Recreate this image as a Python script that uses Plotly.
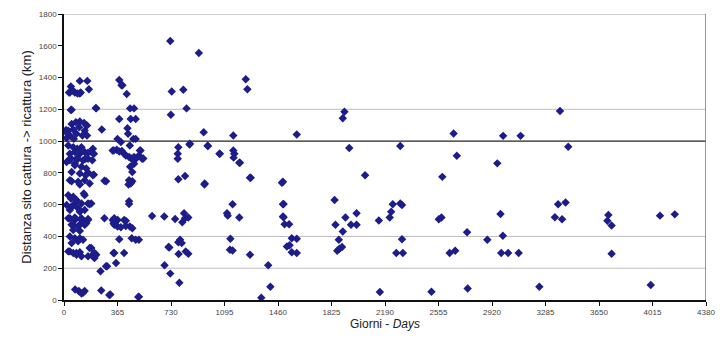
import plotly.graph_objects as go

# Recapture records: days between capture and recapture, distance in km
days = [
    725, 920, 47, 40, 74, 108, 108, 159, 170, 47, 217, 258,
    377, 392, 428, 451, 478, 377, 455, 489, 433, 437, 489, 388, 449, 340, 360, 395,
    518, 422, 459, 492, 541,
    735, 814, 729, 836, 780, 776, 776, 856, 953, 980, 1063, 1155, 1155, 1162, 1200,
    1240, 1251, 1588, 1913, 1902, 1946, 2294, 2658, 2680,
    2996, 3115, 2956, 3384, 3440,
    148, 52, 108, 204, 287, 440, 466, 135, 175, 18, 444, 444,
    276, 332, 366, 338, 365, 388, 422, 449, 466, 601, 684, 758, 819, 826, 848, 807,
    377, 462, 489, 511, 186, 220, 338, 410, 355, 287, 249,
    718, 780, 792, 803, 782, 830, 848, 686, 725, 787,
    76, 101, 119, 141, 254, 309, 507,
    958, 1112, 1117, 1150, 1196, 1135, 1132, 1150, 780, 826,
    1269, 1269, 1393, 1408, 1346, 1487, 1498, 1498, 1505, 1536, 1554, 1588, 1521, 1539,
    1554, 1588, 2054, 1846, 1852, 1920, 1996, 1958, 1996, 1902, 1875, 1864, 1879, 1897,
    2148, 2155, 2222, 2232, 2243, 2294, 2306, 2306, 2267, 2312, 2507, 2557, 2575, 2581,
    2631, 2669, 2750, 2754,
    2978, 2888, 2994, 2983, 3030, 3102, 3243, 3349, 3371, 3422, 3398,
    3714, 3707, 3736, 3736, 4003, 4066, 4167,
    859, 982, 1061, 1157, 1196, 1274, 960, 1494, 1494, 1494,
    34, 63, 92, 114, 52, 220, 399, 365, 473,
    29, 52, 81, 108, 137, 157, 63, 103, 141, 40, 85, 126, 157, 18, 67,
    29, 63, 90, 119, 40, 74, 108, 141, 164, 197, 204, 45, 96, 148, 193, 18, 74,
    96, 186, 40, 85, 130, 164, 74, 119, 152, 52, 108, 164, 197, 40, 96, 141, 175,
    276, 444, 455, 466, 451, 478, 332, 377, 410, 444, 478, 511, 533, 522,
    29, 63, 85, 119, 164, 52, 96, 141, 141, 186,
    40, 74, 119, 164, 63, 108, 152, 343, 410,
    343, 422, 40, 74, 108, 52, 96, 130,
    29, 63, 85, 108, 119, 175, 197, 208, 343, 294, 713,
    130, 316, 511,
    29, 74, 119, 164, 52, 96, 141, 63, 108, 47, 85, 63, 40, 108,
    40, 85, 164, 197, 208, 14, 22,
]
distance_km = [
    1630, 1555, 1344, 1306, 1306, 1300, 1379, 1379, 1327, 1196, 1208, 1073,
    1385, 1352, 1296, 1206, 1206, 1139, 1139, 1139, 1081, 1046, 1014, 994, 973, 941, 945, 938,
    941, 910, 890, 890, 890,
    1312, 1323, 1166, 1206, 962, 921, 889, 979, 1056, 971, 921, 1035, 941, 921, 864,
    1389, 1327, 1041, 1185, 1144, 956, 969, 1048, 908,
    1033, 1033, 860, 1189, 964,
    785, 748, 727, 789, 748, 727, 748, 671, 602, 598, 622, 604,
    514, 504, 504, 483, 462, 458, 498, 462, 452, 529, 525, 510, 546, 514, 519, 489,
    383, 389, 379, 379, 327, 285, 296, 296, 233, 212, 181,
    331, 364, 379, 358, 289, 306, 291, 219, 166, 108,
    66, 56, 41, 56, 60, 31, 19,
    727, 546, 531, 602, 519, 385, 316, 312, 760, 781,
    769, 285, 219, 83, 14, 738, 604, 521, 477, 477, 389, 385, 337, 344,
    300, 296, 785, 629, 473, 519, 546, 473, 473, 431, 379, 310, 323, 333,
    500, 50, 519, 556, 602, 608, 598, 383, 296, 296, 52, 508, 519, 775,
    296, 310, 427, 73,
    541, 379, 404, 296, 296, 296, 83, 521, 602, 614, 508,
    535, 498, 469, 291, 94, 531, 539,
    983, 969, 921, 896, 864, 769, 733, 744, 602, 525,
    1306, 1316, 1300, 1306, 1198, 1206, 1352, 1014, 1014,
    1066, 1108, 1119, 1123, 1114, 1098, 1073, 1087, 1066, 1035, 1046, 1035, 1035, 1019, 1014,
    973, 962, 952, 962, 921, 931, 921, 931, 927, 952, 921, 894, 889, 889, 879, 869, 858,
    931, 931, 879, 889, 879, 889, 848, 838, 827, 806, 796, 802, 785, 754, 744, 754, 733,
    750, 754, 733, 806, 838, 858, 941, 935, 921, 900, 900, 910, 889, 941,
    660, 650, 619, 608, 608, 587, 577, 566, 660, 608,
    514, 504, 514, 504, 473, 473, 483, 514, 504,
    473, 466, 400, 389, 389, 358, 369, 379,
    306, 296, 285, 300, 275, 327, 285, 264, 296, 212, 333,
    46, 35, 21,
    514, 519, 504, 510, 473, 462, 473, 441, 435, 639, 629, 598, 566, 556,
    306, 296, 275, 275, 296, 1070, 1050,
]

x_ticks = [0, 365, 730, 1095, 1460, 1825, 2190, 2555, 2920, 3285, 3650, 4015, 4380]
y_ticks = [0, 200, 400, 600, 800, 1000, 1200, 1400, 1600, 1800]
light_grid = [200, 400, 1200]
dark_grid = [1000]

fig = go.Figure()
fig.add_trace(go.Scatter(
    x=days, y=distance_km, mode="markers",
    marker=dict(symbol="diamond", size=6.5, color="#1c1c8a", line=dict(width=0)),
    cliponaxis=False, showlegend=False,
))

shapes = []
for yv in light_grid:
    shapes.append(dict(type="line", xref="x", yref="y", x0=0, x1=4380, y0=yv, y1=yv,
                       line=dict(color="#bdbdbd", width=1), layer="below"))
for yv in dark_grid:
    shapes.append(dict(type="line", xref="x", yref="y", x0=0, x1=4380, y0=yv, y1=yv,
                       line=dict(color="#222222", width=1.2), layer="below"))
# frame: pale top edge, darker right edge
shapes.append(dict(type="line", xref="x", yref="y", x0=0, x1=4380, y0=1800, y1=1800,
                   line=dict(color="#cccccc", width=2), layer="below"))
shapes.append(dict(type="line", xref="x", yref="y", x0=4380, x1=4380, y0=0, y1=1800,
                   line=dict(color="#777777", width=1.5), layer="below"))

fig.update_layout(
    width=725, height=339,
    margin=dict(l=64, r=10, t=14, b=37),
    paper_bgcolor="white", plot_bgcolor="white",
    font=dict(family="Arial, Liberation Sans, sans-serif", color="#333333"),
    shapes=shapes,
    xaxis=dict(
        range=[0, 4380], tickvals=x_ticks, ticktext=[str(v) for v in x_ticks],
        showgrid=False, zeroline=False, showline=True, linecolor="#111111", linewidth=1.5,
        ticks="outside", ticklen=4, tickcolor="#111111",
        tickfont=dict(size=8, color="#444444"),
        title=dict(text="Giorni - <i>Days</i>", font=dict(size=12, color="#222222"), standoff=3),
    ),
    yaxis=dict(
        range=[0, 1800], tickvals=y_ticks, ticktext=[str(v) for v in y_ticks],
        showgrid=False, zeroline=False, showline=True, linecolor="#111111", linewidth=1.5,
        ticks="outside", ticklen=4, tickcolor="#111111",
        tickfont=dict(size=8, color="#444444"),
        title=dict(text="Distanza sito cattura -> ricattura (km)",
                   font=dict(size=13, color="#222222"), standoff=4),
    ),
)

fig.write_html("out.html")
